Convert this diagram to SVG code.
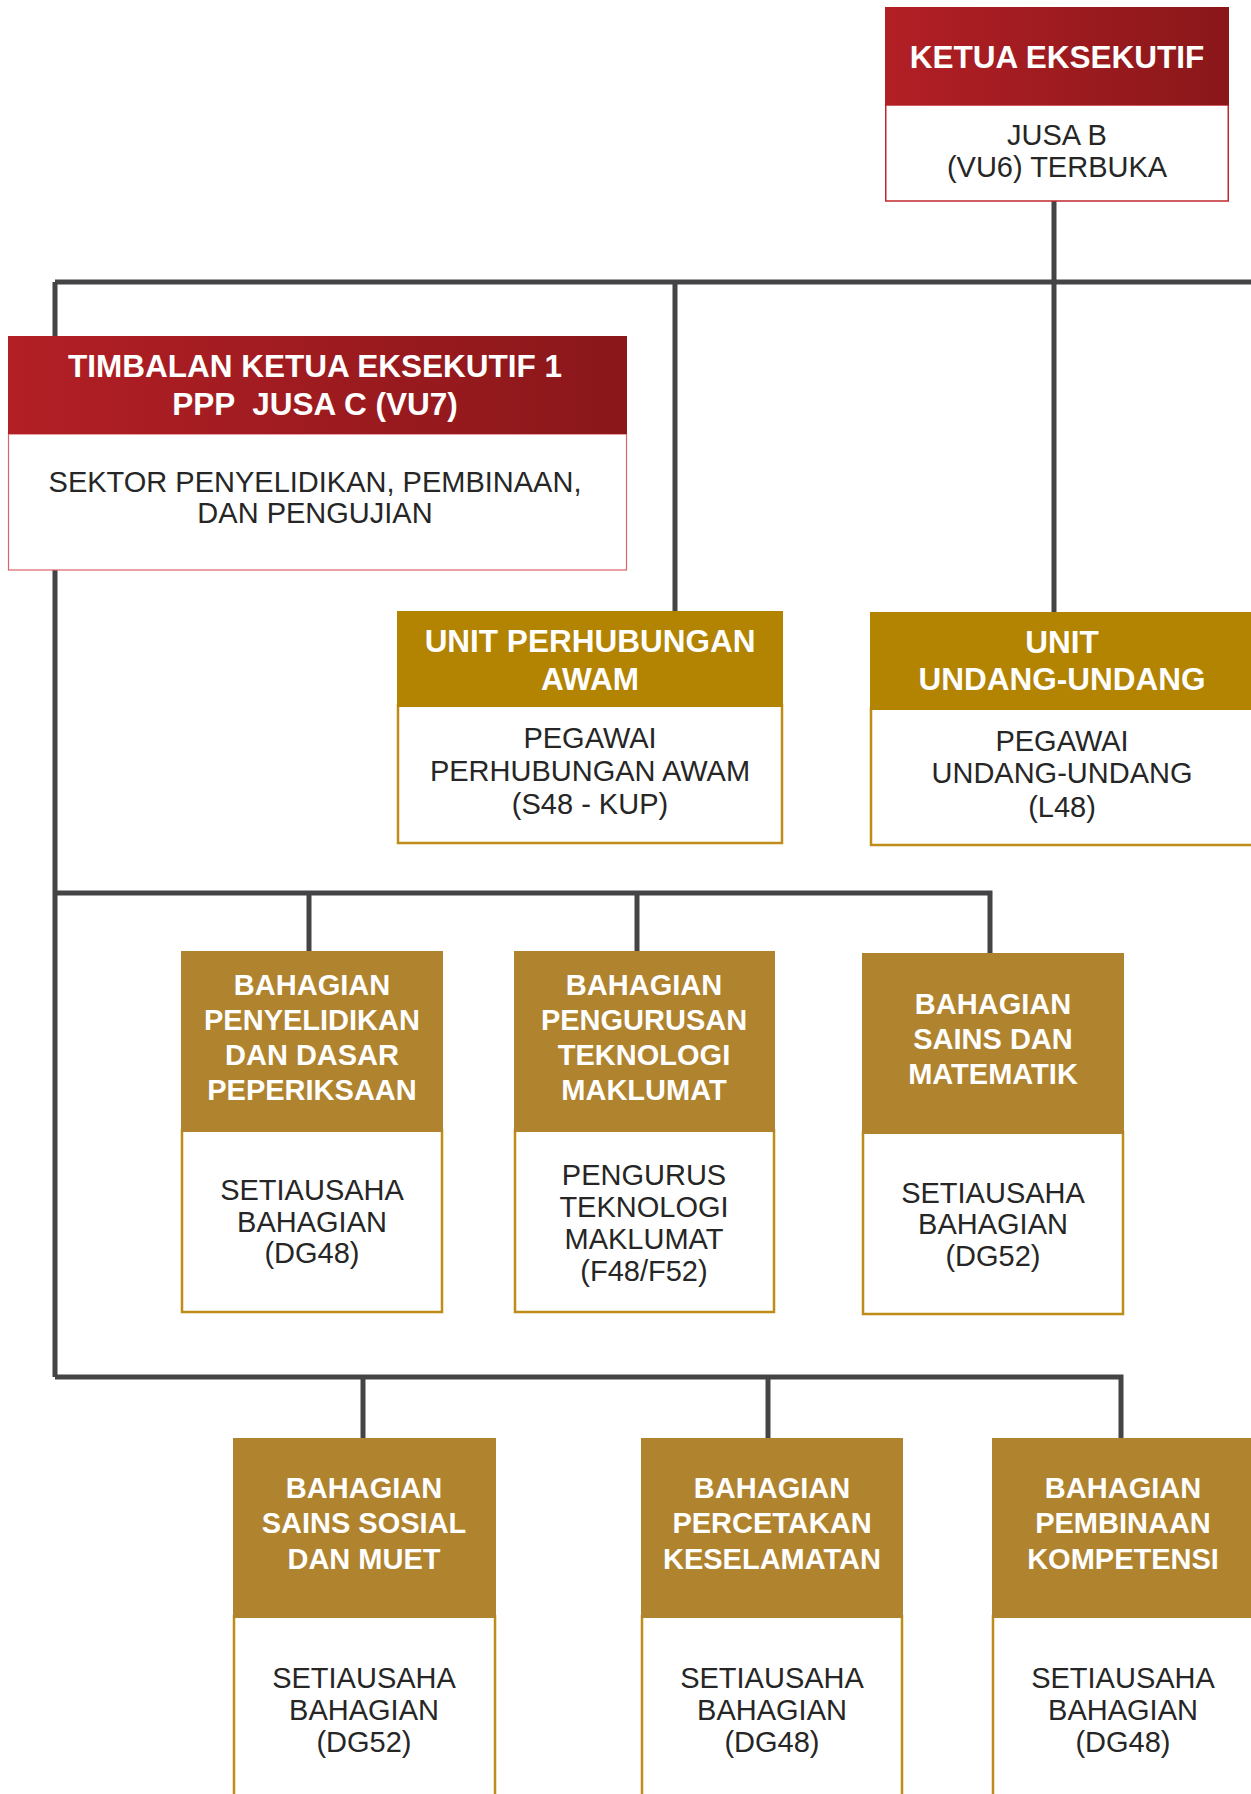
<svg xmlns="http://www.w3.org/2000/svg" width="1251" height="1794" viewBox="0 0 1251 1794">
<defs>
<linearGradient id="red" x1="0" y1="0" x2="1" y2="0">
<stop offset="0" stop-color="#B21F25"/>
<stop offset="1" stop-color="#8A171A"/>
</linearGradient>
</defs>
<style>
.hd{font-family:"Liberation Sans",Arial,sans-serif;font-weight:bold;fill:#fff;text-anchor:middle}
.h1{font-size:31.5px}
.h2{font-size:29px}
.bd{font-family:"Liberation Sans",Arial,sans-serif;font-size:29px;fill:#262626;text-anchor:middle}
.redbody{fill:#fff;stroke:#C0272D;stroke-width:1.5}
.pinkbody{fill:#fff;stroke:#D9656A;stroke-width:1.2}
.goldbody{fill:#fff;stroke:#BE8C17;stroke-width:2.5}
.unithd{fill:#B38302}
.divhd{fill:#B0832F}
.conn{fill:none;stroke:#444446;stroke-width:5}
</style>
<rect width="1251" height="1794" fill="#fff"/>
<g id="connectors">
<path class="conn" d="M55 282 H1251"/>
<path class="conn" d="M1054 201 V612"/>
<path class="conn" d="M675 282 V611"/>
<path class="conn" d="M55 282 V1377"/>
<path class="conn" d="M55 893 H990 V953"/>
<path class="conn" d="M309 893 V951"/>
<path class="conn" d="M637 893 V951"/>
<path class="conn" d="M55 1377 H1121 V1438"/>
<path class="conn" d="M363 1377 V1438"/>
<path class="conn" d="M768 1377 V1438"/>
</g>
<g id="ketua">
<rect class="redbody" x="885.75" y="105" width="342.5" height="96"/>
<rect x="885" y="7" width="344" height="98" fill="url(#red)"/>
<text class="hd h1" x="1057" y="68">KETUA EKSEKUTIF</text>
<text class="bd" x="1057" y="145">JUSA B</text>
<text class="bd" x="1057" y="177">(VU6) TERBUKA</text>
</g>
<g id="timbalan">
<rect class="pinkbody" x="8.5" y="434" width="618" height="136"/>
<rect x="8" y="336" width="619" height="98" fill="url(#red)"/>
<text class="hd h1" x="315" y="377">TIMBALAN KETUA EKSEKUTIF 1</text>
<text class="hd h1" x="315" y="415" xml:space="preserve">PPP  JUSA C (VU7)</text>
<text class="bd" x="315" y="492">SEKTOR PENYELIDIKAN, PEMBINAAN,</text>
<text class="bd" x="315" y="523">DAN PENGUJIAN</text>
</g>
<g id="unit-perhubungan">
<rect class="goldbody" x="398" y="705" width="384" height="138"/>
<rect class="unithd" x="397" y="611" width="386" height="96"/>
<text class="hd h1" x="590" y="652">UNIT PERHUBUNGAN</text>
<text class="hd h1" x="590" y="690">AWAM</text>
<text class="bd" x="590" y="748">PEGAWAI</text>
<text class="bd" x="590" y="781">PERHUBUNGAN AWAM</text>
<text class="bd" x="590" y="814">(S48 - KUP)</text>
</g>
<g id="unit-undang">
<rect class="goldbody" x="871" y="708" width="384" height="137"/>
<rect class="unithd" x="870" y="612" width="386" height="98"/>
<text class="hd h1" x="1062" y="653">UNIT</text>
<text class="hd h1" x="1062" y="690">UNDANG-UNDANG</text>
<text class="bd" x="1062" y="751">PEGAWAI</text>
<text class="bd" x="1062" y="783">UNDANG-UNDANG</text>
<text class="bd" x="1062" y="817">(L48)</text>
</g>
<g id="bahagian-penyelidikan">
<rect class="goldbody" x="182" y="1130" width="260" height="182"/>
<rect class="divhd" x="181" y="951" width="262" height="181"/>
<text class="hd h2" x="312" y="995">BAHAGIAN</text>
<text class="hd h2" x="312" y="1030">PENYELIDIKAN</text>
<text class="hd h2" x="312" y="1065">DAN DASAR</text>
<text class="hd h2" x="312" y="1100">PEPERIKSAAN</text>
<text class="bd" x="312" y="1200">SETIAUSAHA</text>
<text class="bd" x="312" y="1232">BAHAGIAN</text>
<text class="bd" x="312" y="1263">(DG48)</text>
</g>
<g id="bahagian-ti">
<rect class="goldbody" x="515" y="1130" width="259" height="182"/>
<rect class="divhd" x="514" y="951" width="261" height="181"/>
<text class="hd h2" x="644" y="995">BAHAGIAN</text>
<text class="hd h2" x="644" y="1030">PENGURUSAN</text>
<text class="hd h2" x="644" y="1065">TEKNOLOGI</text>
<text class="hd h2" x="644" y="1100">MAKLUMAT</text>
<text class="bd" x="644" y="1185">PENGURUS</text>
<text class="bd" x="644" y="1217">TEKNOLOGI</text>
<text class="bd" x="644" y="1249">MAKLUMAT</text>
<text class="bd" x="644" y="1281">(F48/F52)</text>
</g>
<g id="bahagian-sains">
<rect class="goldbody" x="863" y="1132" width="260" height="182"/>
<rect class="divhd" x="862" y="953" width="262" height="181"/>
<text class="hd h2" x="993" y="1014">BAHAGIAN</text>
<text class="hd h2" x="993" y="1049">SAINS DAN</text>
<text class="hd h2" x="993" y="1084">MATEMATIK</text>
<text class="bd" x="993" y="1203">SETIAUSAHA</text>
<text class="bd" x="993" y="1234">BAHAGIAN</text>
<text class="bd" x="993" y="1266">(DG52)</text>
</g>
<g id="bahagian-sosial">
<rect class="goldbody" x="234" y="1616" width="261" height="200"/>
<rect class="divhd" x="233" y="1438" width="263" height="180"/>
<text class="hd h2" x="364" y="1498">BAHAGIAN</text>
<text class="hd h2" x="364" y="1533">SAINS SOSIAL</text>
<text class="hd h2" x="364" y="1569">DAN MUET</text>
<text class="bd" x="364" y="1688">SETIAUSAHA</text>
<text class="bd" x="364" y="1720">BAHAGIAN</text>
<text class="bd" x="364" y="1752">(DG52)</text>
</g>
<g id="bahagian-percetakan">
<rect class="goldbody" x="642" y="1616" width="260" height="200"/>
<rect class="divhd" x="641" y="1438" width="262" height="180"/>
<text class="hd h2" x="772" y="1498">BAHAGIAN</text>
<text class="hd h2" x="772" y="1533">PERCETAKAN</text>
<text class="hd h2" x="772" y="1569">KESELAMATAN</text>
<text class="bd" x="772" y="1688">SETIAUSAHA</text>
<text class="bd" x="772" y="1720">BAHAGIAN</text>
<text class="bd" x="772" y="1752">(DG48)</text>
</g>
<g id="bahagian-kompetensi">
<rect class="goldbody" x="993" y="1616" width="261" height="200"/>
<rect class="divhd" x="992" y="1438" width="263" height="180"/>
<text class="hd h2" x="1123" y="1498">BAHAGIAN</text>
<text class="hd h2" x="1123" y="1533">PEMBINAAN</text>
<text class="hd h2" x="1123" y="1569">KOMPETENSI</text>
<text class="bd" x="1123" y="1688">SETIAUSAHA</text>
<text class="bd" x="1123" y="1720">BAHAGIAN</text>
<text class="bd" x="1123" y="1752">(DG48)</text>
</g>
</svg>
